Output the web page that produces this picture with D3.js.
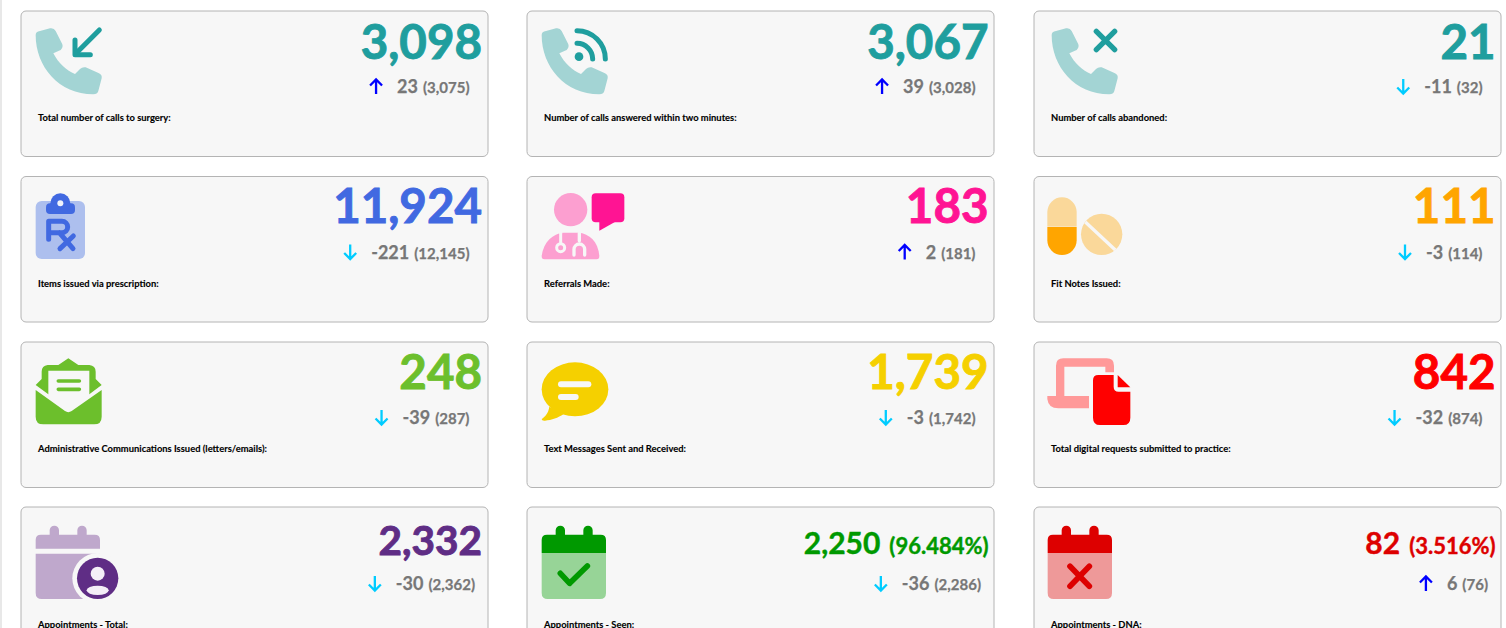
<!DOCTYPE html>
<html><head><meta charset="utf-8">
<script src="https://cdn.jsdelivr.net/npm/d3@7"></script>
<style>html,body{margin:0;padding:0;background:#fff;overflow:hidden}svg{display:block}text{font-family:Lato,sans-serif}</style>
</head><body><div id="c"></div>
<script>
const titles=["Total number of calls to surgery:","Number of calls answered within two minutes:","Number of calls abandoned:","Items issued via prescription:","Referrals Made:","Fit Notes Issued:","Administrative Communications Issued (letters/emails):","Text Messages Sent and Received:","Total digital requests submitted to practice:","Appointments - Total:","Appointments - Seen:","Appointments - DNA:"];
const values=[3098,3067,21,11924,183,111,248,1739,842,2332,2250,82];
const changes=[23,39,-11,-221,2,-3,-39,-3,-32,-30,-36,6];
const previous=[3075,3028,32,12145,181,114,287,1742,874,2362,2286,76];
const shares=[null,null,null,null,null,null,null,null,null,null,"(96.484%)","(3.516%)"];
const colours=["#1f9e9e","#1f9e9e","#1f9e9e","#4169e1","#ff1493","#ffa500","#6cbf2c","#f5d000","#ff0000","#5f2d85","#009900","#dd0000"];
const icons=["phoneIn","phoneWifi","phoneX","rx","doctor","pills","mail","chat","digital","calUser","calCheck","calX"];

const W=1506,H=628,BG="#f7f7f7";
const cols=[21,527,1034],rows=[11,176.5,342,507],cropX=[0,510,1020],cropY=[0,170,335,498];
const cardW=467,cardH=145.5;
const svg=d3.select("#c").append("svg").attr("width",W).attr("height",H);
svg.append("rect").attr("x",0).attr("y",0).attr("width",2).attr("height",H).attr("fill","#e8e8e8");
const fmt=d3.format(",");
const data=titles.map((t,i)=>({t,i,v:values[i],ch:changes[i],p:previous[i],s:shares[i],c:colours[i],icon:icons[i],col:i%3,row:Math.floor(i/3)}));

const phone="M108,93 L138,85 Q150,83 155,93 L175,133 Q178,142 170,150 L148,160 C163,190 188,212 213,222 L228,207 Q235,200 245,202 L285,220 Q295,225 293,235 L283,273 Q280,283 268,283 C165,283 95,200 95,105 Q95,95 108,93 Z";
function P(g,d,f){return g.append("path").attr("d",d).attr("fill",f)}
function L(g,d,c,w){return g.append("path").attr("d",d).attr("fill","none").attr("stroke",c).attr("stroke-width",w).attr("stroke-linecap","round").attr("stroke-linejoin","round")}
function C(g,x,y,r,f){return g.append("circle").attr("cx",x).attr("cy",y).attr("r",r).attr("fill",f)}
function calTop(x,y0){return `M${x},${y0} V126 Q${x},110 ${x+16},110 H${x+42} V97 a14,14 0 0 1 28,0 V110 H${x+125} V97 a14,14 0 0 1 28,0 V110 H${x+177} Q${x+193},110 ${x+193},126 V${y0} Z`}
function calBody(x,y0){return `M${x},${y0} H${x+193} V285 Q${x+193},303 ${x+175},303 H${x+18} Q${x},303 ${x},285 Z`}
const draw={
 phoneIn(g,c){P(g.append("g").attr("transform","translate(12,0)"),phone,"#a3d4d4");L(g,"M298,90 L232,156",c,15);L(g,"M225,120 V164 H271",c,15)},
 phoneWifi(g,c){P(g,phone,"#a3d4d4");C(g,207,170,13,c);L(g,"M201,92 A85,85 0 0 1 286,177",c,15);L(g,"M201,130 A47,47 0 0 1 248,177",c,15)},
 phoneX(g,c){P(g,phone,"#a3d4d4");L(g,"M229,94 L284,149 M284,94 L229,149",c,16)},
 rx(g,c){g.append("rect").attr("x",107).attr("y",93).attr("width",148).attr("height",174).attr("rx",18).attr("fill","#adbfee");
  g.append("rect").attr("x",138).attr("y",100).attr("width",87).attr("height",32).attr("rx",12).attr("fill",c);C(g,181,100,30,c);C(g,181,100,9,"#f0f3fb");
  L(g,"M146,208 V154 H186 A17,17 0 0 1 186,188 H146 M178,188 L219,236 M220,198 L180,236",c,15)},
 doctor(g,c){C(g,182,119,50,"#fc9fd0");P(g,"M103,268 Q95,268 95,258 C100,215 130,190 160,188 H205 C238,190 265,215 268,258 Q268,268 260,268 Z","#fc9fd0");
  L(g,"M152,190 V220",BG,9);g.append("circle").attr("cx",152).attr("cy",233).attr("r",12).attr("fill","none").attr("stroke",BG).attr("stroke-width",9);
  L(g,"M208,190 V212 M192,255 V238 A16,16 0 0 1 224,238 V255",BG,10);
  g.append("rect").attr("x",245).attr("y",70).attr("width",98).attr("height",87).attr("rx",12).attr("fill",c);P(g,"M268,150 V182 L316,155 Z",c)},
 pills(g,c){const l="#fad89a";P(g,"M82,168 V126 A44,44 0 0 1 170,126 V168 Z",l);P(g,"M82,170 H170 V211 A44,44 0 0 1 82,211 Z",c);C(g,245,193,62,l);L(g,"M196,156 L286,240",BG,10).attr("stroke-linecap","butt")},
 mail(g,c){P(g,"M107,150 L125,132 V110 Q125,92 143,90 H175 L205,70 L235,90 H268 Q287,92 287,110 V132 L305,150 L268,178 H145 Z",c);
  P(g,"M145,107 H268 V190 L205,225 L145,190 Z",BG);L(g,"M175,138 H238 M175,163 H238",c,11);
  P(g,"M107,165 L195,228 Q205,235 215,228 L305,165 V245 Q305,268 282,268 H130 Q107,268 107,245 Z",c)},
 chat(g,c){g.append("ellipse").attr("cx",195).attr("cy",163).attr("rx",100).attr("ry",81).attr("fill",c);P(g,"M118,215 C115,235 105,245 95,252 Q95,258 105,257 C125,256 145,248 160,238 Z",c);L(g,"M153,148 H235",BG,18);L(g,"M153,186 H197",BG,18)},
 digital(g,c){const l="#ff9999";P(g,"M108,183 V92 Q108,70 130,70 H260 Q282,70 282,92 V112 H256 V95 H133 V183 Z",l);P(g,"M82,183 H207 V220 H115 Q85,220 82,192 Z",l);
  P(g,"M235,120 H281 V155 Q281,170 296,170 H331 V248 Q331,270 310,270 H240 Q219,270 219,248 V136 Q219,120 235,120 Z",c);P(g,"M293,120 L331,157 H293 Z",c)},
 calUser(g,c){const l="#bfa8cc";P(g,calTop(107,152),l);P(g,calBody(107,167),l);C(g,293,241,76,BG);C(g,293,241,62,c);C(g,293,227,21,"#f4eef7");g.append("ellipse").attr("cx",293).attr("cy",277).attr("rx",33).attr("ry",14).attr("fill","#f4eef7")},
 calCheck(g,c){P(g,calBody(95,165),"#97d497");P(g,calTop(95,165),c);L(g,"M151,226 L179,256 L232,204",c,17)},
 calX(g,c){P(g,calBody(83,165),"#ee9999");P(g,calTop(83,165),c);L(g,"M150,205 L208,265 M208,205 L150,265",c,17)}
};

const cards=svg.selectAll("g.card").data(data).join("g").attr("class","card").attr("transform",d=>`translate(${cols[d.col]},${rows[d.row]})`);
cards.append("rect").attr("x",0).attr("y",0).attr("width",cardW).attr("height",cardH).attr("rx",5).attr("fill",BG).attr("stroke","#b4b4b4").attr("stroke-width",1);

svg.selectAll("g.icon").data(data).join("g").attr("class","icon")
 .attr("transform",d=>`translate(${cropX[d.col]},${cropY[d.row]}) scale(${1/3})`)
 .each(function(d){draw[d.icon](d3.select(this),d.c)});

cards.each(function(d){
 const g=d3.select(this),last=d.row===3,right=cardW-(d.col===0?6:5.5);
 const big=g.append("text").attr("x",right).attr("y",d.row===0?48:(last?(d.s?47:48):46.5)).attr("text-anchor","end").attr("font-weight",700).attr("fill",d.c).attr("stroke",d.c).attr("stroke-width",d.s?0.4:0.9);
 if(d.s){big.append("tspan").attr("font-size",30).text(fmt(d.v));big.append("tspan").attr("font-size",22).attr("dx",9).text(d.s)}
 else big.attr("font-size",d.row===3?40.5:47.5).text(fmt(d.v));
 const sr=cardW-(last?13:18.5),sy=last?83:82;
 const sub=g.append("text").attr("x",sr).attr("y",sy).attr("text-anchor","end").attr("font-weight",700).attr("fill","#777").attr("stroke","#777").attr("stroke-width",0.25);
 sub.append("tspan").attr("font-size",18).text(d.ch);
 sub.append("tspan").attr("font-size",15).attr("dx",5).text(`(${fmt(d.p)})`);
 const len=sub.node().getComputedTextLength();
 const ax=sr-len-26,up=d.ch>0,col=up?"#0000ff":"#00ccff";
 const ay=sy-14;
 g.append("path").attr("transform",`translate(${ax},${ay})`)
  .attr("d",up?"M0,15 V1 M-6,6.5 L0,0.5 L6,6.5":"M0,0 V14 M-6,8.5 L0,14.5 L6,8.5")
  .attr("fill","none").attr("stroke",col).attr("stroke-width",2.3);
 g.append("text").attr("x",17).attr("y",last?121:110).attr("font-size",9.4).attr("font-weight",700).attr("fill","#000").attr("stroke","#000").attr("stroke-width",0.12).text(d.t);
});
</script></body></html>
